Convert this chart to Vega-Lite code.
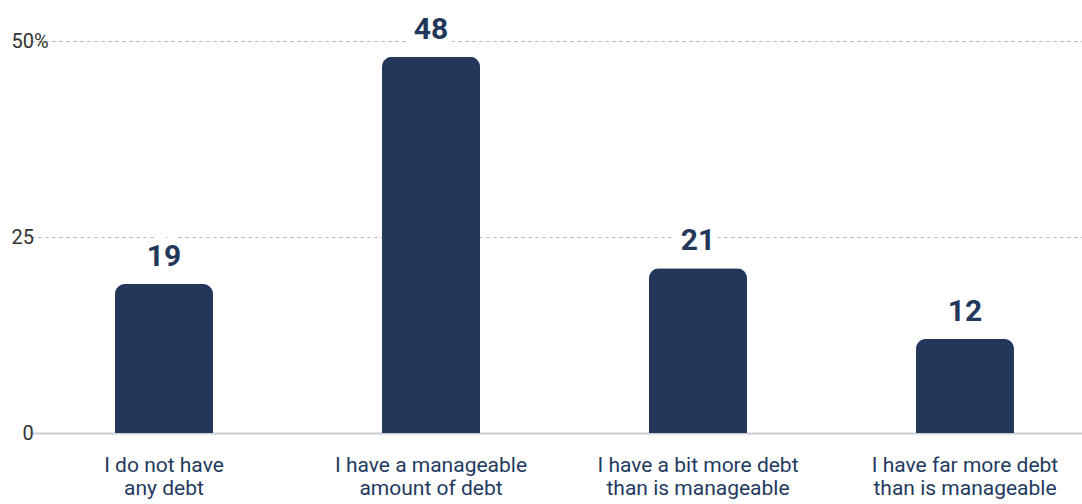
{
  "$schema": "https://vega.github.io/schema/vega-lite/v6.json",
  "autosize": "none",
  "padding": {"left": 54, "top": 41, "right": 0, "bottom": 71},
  "width": 1028,
  "height": 392,
  "background": "#ffffff",
  "config": {"view": {"stroke": null}, "font": "Roboto"},
  "data": {
    "values": [
      {"answer": "I do not have any debt", "pct": 19},
      {"answer": "I have a manageable amount of debt", "pct": 48},
      {"answer": "I have a bit more debt than is manageable", "pct": 21},
      {"answer": "I have far more debt than is manageable", "pct": 12}
    ]
  },
  "encoding": {
    "x": {
      "field": "answer",
      "type": "nominal",
      "sort": null,
      "scale": {"range": [-23.5, 1044.5], "paddingInner": 0.633, "paddingOuter": 0.3165},
      "axis": {
        "title": null,
        "domain": false,
        "ticks": false,
        "labelAngle": 0,
        "labelFont": "Roboto",
        "labelFontSize": 21,
        "labelFontWeight": "normal",
        "labelColor": "#1f3a5f",
        "labelPadding": 21,
        "labelLineHeight": 23,
        "labelLimit": 400,
        "labelAlign": "center",
        "labelExpr": "datum.value == 'I do not have any debt' ? ['I do not have', 'any debt'] : datum.value == 'I have a manageable amount of debt' ? ['I have a manageable', 'amount of debt'] : datum.value == 'I have a bit more debt than is manageable' ? ['I have a bit more debt', 'than is manageable'] : ['I have far more debt', 'than is manageable']"
      }
    },
    "y": {
      "field": "pct",
      "type": "quantitative",
      "scale": {"domain": [0, 50], "nice": false},
      "axis": {
        "title": null,
        "values": [0, 25, 50],
        "domain": false,
        "ticks": false,
        "labelFont": "Roboto",
        "labelFontSize": 20,
        "labelColor": "#333333",
        "labelAlign": "left",
        "labelBaseline": "middle",
        "labelPadding": {"condition": {"test": "datum.value == 0", "value": 32}, "value": 43},
        "labelExpr": "datum.value == 50 ? '50%' : datum.label",
        "gridColor": {"condition": {"test": "datum.value == 0", "value": "#c9cdd6"}, "value": "#b9bfcc"},
        "gridDash": {"condition": {"test": "datum.value == 0", "value": []}, "value": [4, 3]},
        "gridWidth": {"condition": {"test": "datum.value == 0", "value": 2}, "value": 1}
      }
    }
  },
  "layer": [
    {
      "mark": {"type": "bar", "color": "#223759", "cornerRadiusTopLeft": 10, "cornerRadiusTopRight": 10}
    },
    {
      "mark": {"type": "text", "baseline": "alphabetic", "dy": -18, "fontSize": 30, "fontWeight": "bold", "font": "Roboto", "stroke": "#ffffff", "strokeWidth": 16, "color": "#ffffff"},
      "encoding": {"text": {"field": "pct", "type": "quantitative"}}
    },
    {
      "mark": {"type": "text", "baseline": "alphabetic", "dy": -18, "fontSize": 30, "fontWeight": "bold", "font": "Roboto", "color": "#223759"},
      "encoding": {"text": {"field": "pct", "type": "quantitative"}}
    }
  ]
}
